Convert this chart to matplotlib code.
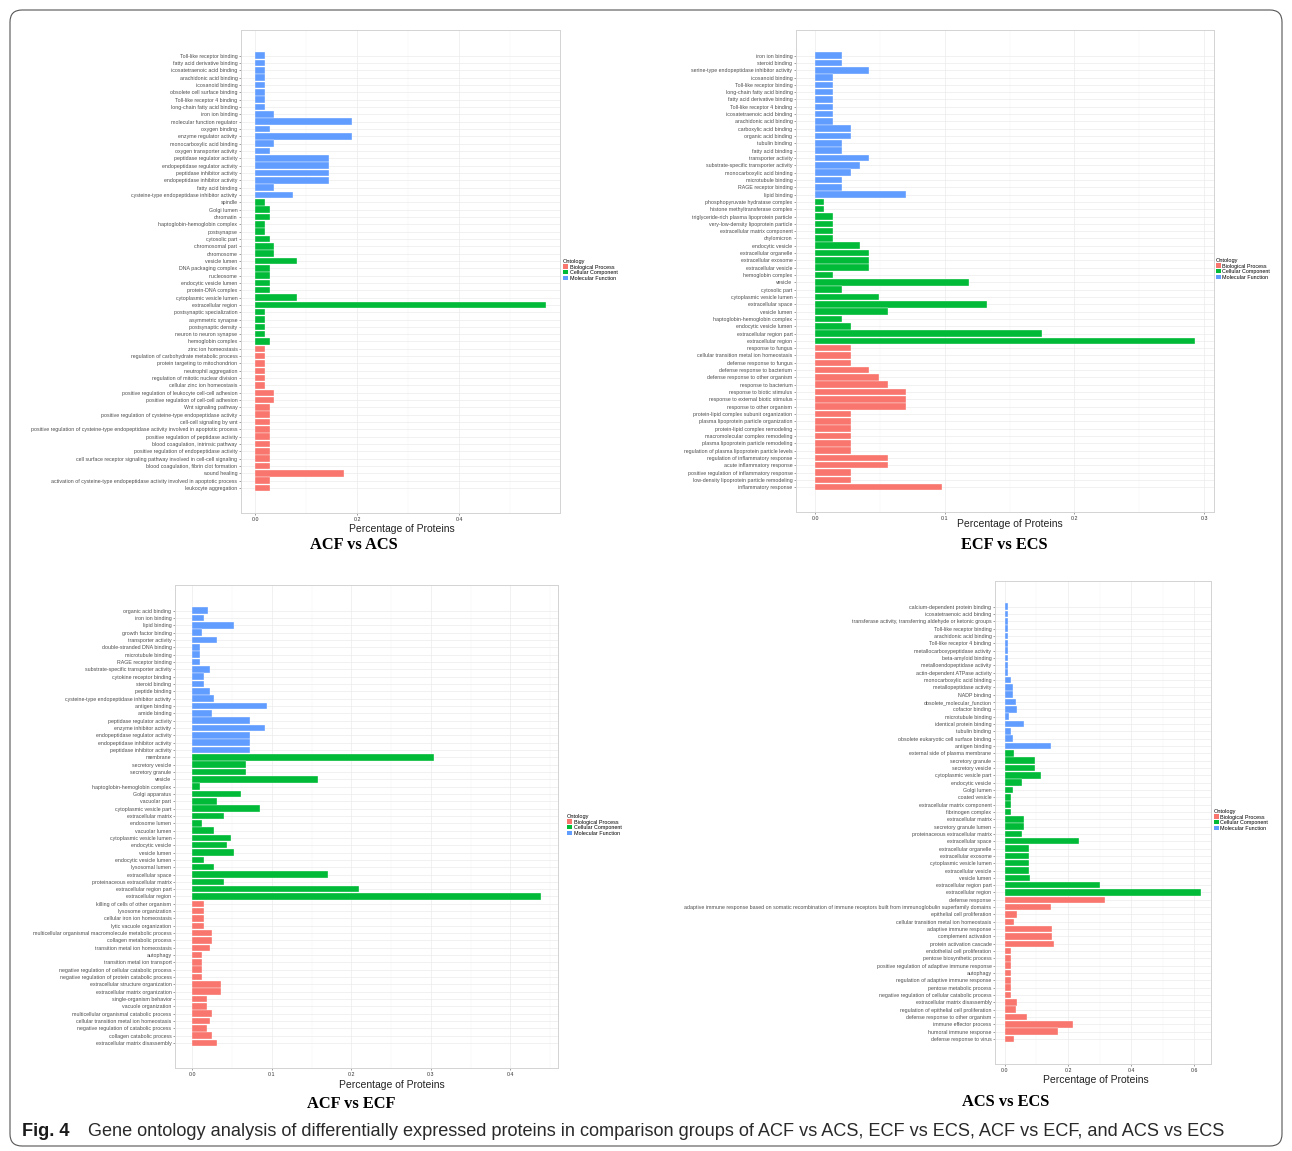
import matplotlib
matplotlib.use("Agg")
import matplotlib.pyplot as plt
from matplotlib.patches import Patch, FancyBboxPatch
from matplotlib.ticker import FixedLocator, MultipleLocator, FormatStrFormatter

plt.rcParams['font.family'] = ['Liberation Sans', 'DejaVu Sans']

# ---------------- data ----------------
ontology_names = ["Biological Process", "Cellular Component", "Molecular Function"]

# Panel 1: ACF vs ACS
p1_terms = [
    "Toll-like receptor binding", "fatty acid derivative binding", "icosatetraenoic acid binding",
    "arachidonic acid binding", "icosanoid binding", "obsolete cell surface binding",
    "Toll-like receptor 4 binding", "long-chain fatty acid binding", "iron ion binding",
    "molecular function regulator", "oxygen binding", "enzyme regulator activity",
    "monocarboxylic acid binding", "oxygen transporter activity", "peptidase regulator activity",
    "endopeptidase regulator activity", "peptidase inhibitor activity", "endopeptidase inhibitor activity",
    "fatty acid binding", "cysteine-type endopeptidase inhibitor activity",
    "spindle", "Golgi lumen", "chromatin", "haptoglobin-hemoglobin complex", "postsynapse",
    "cytosolic part", "chromosomal part", "chromosome", "vesicle lumen", "DNA packaging complex",
    "nucleosome", "endocytic vesicle lumen", "protein-DNA complex", "cytoplasmic vesicle lumen",
    "extracellular region", "postsynaptic specialization", "asymmetric synapse",
    "postsynaptic density", "neuron to neuron synapse", "hemoglobin complex",
    "zinc ion homeostasis", "regulation of carbohydrate metabolic process",
    "protein targeting to mitochondrion", "neutrophil aggregation",
    "regulation of mitotic nuclear division", "cellular zinc ion homeostasis",
    "positive regulation of leukocyte cell-cell adhesion", "positive regulation of cell-cell adhesion",
    "Wnt signaling pathway", "positive regulation of cysteine-type endopeptidase activity",
    "cell-cell signaling by wnt",
    "positive regulation of cysteine-type endopeptidase activity involved in apoptotic process",
    "positive regulation of peptidase activity", "blood coagulation, intrinsic pathway",
    "positive regulation of endopeptidase activity",
    "cell surface receptor signaling pathway involved in cell-cell signaling",
    "blood coagulation, fibrin clot formation", "wound healing",
    "activation of cysteine-type endopeptidase activity involved in apoptotic process",
    "leukocyte aggregation",
]
p1_values = [
    0.018, 0.018, 0.018, 0.018, 0.018, 0.018, 0.018, 0.018, 0.037, 0.190,
    0.028, 0.190, 0.037, 0.028, 0.145, 0.145, 0.145, 0.145, 0.037, 0.073,
    0.018, 0.028, 0.028, 0.018, 0.018, 0.028, 0.037, 0.037, 0.082, 0.028,
    0.028, 0.028, 0.028, 0.082, 0.570, 0.018, 0.018, 0.018, 0.018, 0.028,
    0.018, 0.018, 0.018, 0.018, 0.018, 0.018, 0.037, 0.037, 0.028, 0.028,
    0.028, 0.028, 0.028, 0.028, 0.028, 0.028, 0.028, 0.173, 0.028, 0.028,
]
p1_groups = ["MF"] * 20 + ["CC"] * 20 + ["BP"] * 20
p1_ticks = [0.0, 0.2, 0.4]

# Panel 2: ECF vs ECS
p2_terms = [
    "iron ion binding", "steroid binding", "serine-type endopeptidase inhibitor activity",
    "icosanoid binding", "Toll-like receptor binding", "long-chain fatty acid binding",
    "fatty acid derivative binding", "Toll-like receptor 4 binding", "icosatetraenoic acid binding",
    "arachidonic acid binding", "carboxylic acid binding", "organic acid binding", "tubulin binding",
    "fatty acid binding", "transporter activity", "substrate-specific transporter activity",
    "monocarboxylic acid binding", "microtubule binding", "RAGE receptor binding", "lipid binding",
    "phosphopyruvate hydratase complex", "histone methyltransferase complex",
    "triglyceride-rich plasma lipoprotein particle", "very-low-density lipoprotein particle",
    "extracellular matrix component", "chylomicron", "endocytic vesicle", "extracellular organelle",
    "extracellular exosome", "extracellular vesicle", "hemoglobin complex", "vesicle",
    "cytosolic part", "cytoplasmic vesicle lumen", "extracellular space", "vesicle lumen",
    "haptoglobin-hemoglobin complex", "endocytic vesicle lumen", "extracellular region part",
    "extracellular region",
    "response to fungus", "cellular transition metal ion homeostasis", "defense response to fungus",
    "defense response to bacterium", "defense response to other organism", "response to bacterium",
    "response to biotic stimulus", "response to external biotic stimulus", "response to other organism",
    "protein-lipid complex subunit organization", "plasma lipoprotein particle organization",
    "protein-lipid complex remodeling", "macromolecular complex remodeling",
    "plasma lipoprotein particle remodeling", "regulation of plasma lipoprotein particle levels",
    "regulation of inflammatory response", "acute inflammatory response",
    "positive regulation of inflammatory response", "low-density lipoprotein particle remodeling",
    "inflammatory response",
]
p2_values = [
    0.021, 0.021, 0.042, 0.014, 0.014, 0.014, 0.014, 0.014, 0.014, 0.014,
    0.028, 0.028, 0.021, 0.021, 0.042, 0.035, 0.028, 0.021, 0.021, 0.070,
    0.007, 0.007, 0.014, 0.014, 0.014, 0.014, 0.035, 0.042, 0.042, 0.042,
    0.014, 0.119, 0.021, 0.049, 0.133, 0.056, 0.021, 0.028, 0.175, 0.293,
    0.028, 0.028, 0.028, 0.042, 0.049, 0.056, 0.070, 0.070, 0.070, 0.028,
    0.028, 0.028, 0.028, 0.028, 0.028, 0.056, 0.056, 0.028, 0.028, 0.098,
]
p2_groups = ["MF"] * 20 + ["CC"] * 20 + ["BP"] * 20
p2_ticks = [0.0, 0.1, 0.2, 0.3]

# Panel 3: ACF vs ECF
p3_terms = [
    "organic acid binding", "iron ion binding", "lipid binding", "growth factor binding",
    "transporter activity", "double-stranded DNA binding", "microtubule binding",
    "RAGE receptor binding", "substrate-specific transporter activity", "cytokine receptor binding",
    "steroid binding", "peptide binding", "cysteine-type endopeptidase inhibitor activity",
    "antigen binding", "amide binding", "peptidase regulator activity", "enzyme inhibitor activity",
    "endopeptidase regulator activity", "endopeptidase inhibitor activity", "peptidase inhibitor activity",
    "membrane", "secretory vesicle", "secretory granule", "vesicle", "haptoglobin-hemoglobin complex",
    "Golgi apparatus", "vacuolar part", "cytoplasmic vesicle part", "extracellular matrix",
    "endosome lumen", "vacuolar lumen", "cytoplasmic vesicle lumen", "endocytic vesicle",
    "vesicle lumen", "endocytic vesicle lumen", "lysosomal lumen", "extracellular space",
    "proteinaceous extracellular matrix", "extracellular region part", "extracellular region",
    "killing of cells of other organism", "lysosome organization", "cellular iron ion homeostasis",
    "lytic vacuole organization", "multicellular organismal macromolecule metabolic process",
    "collagen metabolic process", "transition metal ion homeostasis", "autophagy",
    "transition metal ion transport", "negative regulation of cellular catabolic process",
    "negative regulation of protein catabolic process", "extracellular structure organization",
    "extracellular matrix organization", "single-organism behavior", "vacuole organization",
    "multicellular organismal catabolic process", "cellular transition metal ion homeostasis",
    "negative regulation of catabolic process", "collagen catabolic process",
    "extracellular matrix disassembly",
]
p3_values = [
    0.019, 0.015, 0.052, 0.012, 0.031, 0.009, 0.009, 0.009, 0.022, 0.015,
    0.015, 0.022, 0.027, 0.094, 0.025, 0.073, 0.091, 0.073, 0.073, 0.073,
    0.304, 0.067, 0.067, 0.158, 0.009, 0.061, 0.031, 0.085, 0.040, 0.012,
    0.027, 0.049, 0.043, 0.052, 0.015, 0.027, 0.170, 0.040, 0.210, 0.438,
    0.015, 0.015, 0.015, 0.015, 0.025, 0.025, 0.022, 0.012, 0.012, 0.012,
    0.012, 0.036, 0.036, 0.018, 0.018, 0.025, 0.022, 0.018, 0.025, 0.031,
]
p3_groups = ["MF"] * 20 + ["CC"] * 20 + ["BP"] * 20
p3_ticks = [0.0, 0.1, 0.2, 0.3, 0.4]

# Panel 4: ACS vs ECS
p4_terms = [
    "calcium-dependent protein binding", "icosatetraenoic acid binding",
    "transferase activity, transferring aldehyde or ketonic groups", "Toll-like receptor binding",
    "arachidonic acid binding", "Toll-like receptor 4 binding", "metallocarboxypeptidase activity",
    "beta-amyloid binding", "metalloendopeptidase activity", "actin-dependent ATPase activity",
    "monocarboxylic acid binding", "metallopeptidase activity", "NADP binding",
    "obsolete_molecular_function", "cofactor binding", "microtubule binding",
    "identical protein binding", "tubulin binding", "obsolete eukaryotic cell surface binding",
    "antigen binding",
    "external side of plasma membrane", "secretory granule", "secretory vesicle",
    "cytoplasmic vesicle part", "endocytic vesicle", "Golgi lumen", "coated vesicle",
    "extracellular matrix component", "fibrinogen complex", "extracellular matrix",
    "secretory granule lumen", "proteinaceous extracellular matrix", "extracellular space",
    "extracellular organelle", "extracellular exosome", "cytoplasmic vesicle lumen",
    "extracellular vesicle", "vesicle lumen", "extracellular region part", "extracellular region",
    "defense response",
    "adaptive immune response based on somatic recombination of immune receptors built from immunoglobulin superfamily domains",
    "epithelial cell proliferation", "cellular transition metal ion homeostasis",
    "adaptive immune response", "complement activation", "protein activation cascade",
    "endothelial cell proliferation", "pentose biosynthetic process",
    "positive regulation of adaptive immune response", "autophagy",
    "regulation of adaptive immune response", "pentose metabolic process",
    "negative regulation of cellular catabolic process", "extracellular matrix disassembly",
    "regulation of epithelial cell proliferation", "defense response to other organism",
    "immune effector process", "humoral immune response", "defense response to virus",
]
p4_values = [
    0.010, 0.010, 0.010, 0.010, 0.010, 0.010, 0.010, 0.010, 0.010, 0.010,
    0.020, 0.025, 0.025, 0.035, 0.040, 0.014, 0.060, 0.020, 0.025, 0.145,
    0.030, 0.095, 0.095, 0.115, 0.055, 0.025, 0.020, 0.020, 0.020, 0.060,
    0.060, 0.055, 0.236, 0.076, 0.076, 0.076, 0.076, 0.080, 0.302, 0.622,
    0.316, 0.145, 0.040, 0.030, 0.150, 0.150, 0.156, 0.020, 0.020, 0.020,
    0.020, 0.020, 0.020, 0.020, 0.040, 0.035, 0.070, 0.215, 0.170, 0.030,
]
p4_groups = ["MF"] * 20 + ["CC"] * 20 + ["BP"] * 20
p4_ticks = [0.0, 0.2, 0.4, 0.6]

panel_titles = ["ACF vs ACS", "ECF vs ECS", "ACF vs ECF", "ACS vs ECS"]

# ---------------- styling / layout ----------------
W, H = 1292, 1151
fig = plt.figure(figsize=(W / 100, H / 100), dpi=100)
fig.patch.set_facecolor('white')

COLORS = {"BP": "#F8766D", "CC": "#00BA38", "MF": "#619CFF"}
TXT = '#4D4D4D'


def px_axes(l, t, r, b):
    return fig.add_axes([l / W, 1 - b / H, (r - l) / W, (b - t) / H])


def draw_panel(box, terms, values, groups, ticks, minor, title, title_xy, xlab_xy, legend_xy):
    ax = px_axes(*box)
    n = len(terms)
    ys = list(range(n - 1, -1, -1))
    ax.barh(ys, values, height=0.9, color=[COLORS[g] for g in groups],
            edgecolor='white', linewidth=0.25, zorder=3)
    vmax = max(values)
    ax.set_xlim(-0.05 * vmax, 1.05 * vmax)
    ax.set_ylim(-3.4, n - 1 + 3.5)
    ax.set_yticks(ys)
    ax.set_yticklabels(terms)
    ax.xaxis.set_major_locator(FixedLocator(ticks))
    ax.xaxis.set_minor_locator(MultipleLocator(minor))
    ax.xaxis.set_major_formatter(FormatStrFormatter('%.1f'))
    ax.tick_params(axis='y', which='major', labelsize=3.8, colors='#555555',
                   labelcolor=TXT, length=1.6, width=0.4, pad=1)
    ax.tick_params(axis='x', which='major', labelsize=3.8, colors='#555555',
                   labelcolor='#333333', length=1.6, width=0.4, pad=1.5)
    ax.tick_params(axis='x', which='minor', length=0)
    ax.grid(which='major', color='#EBEBEB', linewidth=0.5, zorder=0)
    ax.grid(which='minor', axis='x', color='#F4F4F4', linewidth=0.35, zorder=0)
    ax.set_axisbelow(True)
    for s in ax.spines.values():
        s.set_color('#D3D3D3')
        s.set_linewidth(0.7)
    fig.text(xlab_xy[0] / W, 1 - xlab_xy[1] / H, "Percentage of Proteins",
             ha='center', va='center', fontsize=7.5, color='#222222')
    fig.text(title_xy[0] / W, 1 - title_xy[1] / H, title, ha='center', va='center',
             fontsize=11.8, fontweight='bold', family=['Liberation Serif', 'DejaVu Serif'])
    handles = [Patch(facecolor=COLORS[k], edgecolor='none') for k in ["BP", "CC", "MF"]]
    fig.legend(handles, ontology_names, loc='upper left',
               bbox_to_anchor=(legend_xy[0] / W, 1 - legend_xy[1] / H),
               title='Ontology', fontsize=3.9, title_fontsize=4.1, frameon=False,
               handlelength=0.9, handleheight=0.9, handletextpad=0.3, labelspacing=0.08,
               borderaxespad=0, borderpad=0, alignment='left')
    return ax


draw_panel((241, 30, 560, 513), p1_terms, p1_values, p1_groups, p1_ticks, 0.1,
           panel_titles[0], (354, 545), (402, 529), (563, 259))
draw_panel((796, 30, 1214, 512), p2_terms, p2_values, p2_groups, p2_ticks, 0.05,
           panel_titles[1], (1004, 545), (1010, 524), (1216, 258))
draw_panel((175, 585, 558, 1068), p3_terms, p3_values, p3_groups, p3_ticks, 0.05,
           panel_titles[2], (351, 1104), (392, 1085), (567, 814))
draw_panel((995, 581, 1211, 1064), p4_terms, p4_values, p4_groups, p4_ticks, 0.1,
           panel_titles[3], (1006, 1102), (1096, 1080), (1214, 809))

# caption
fig.text(22 / W, 1 - 1132 / H, "Fig. 4", fontsize=13.1, fontweight='bold',
         ha='left', va='center', color='#1a1a1a')
fig.text(88 / W, 1 - 1132 / H,
         "Gene ontology analysis of differentially expressed proteins in comparison groups of "
         "ACF vs ACS, ECF vs ECS, ACF vs ECF, and ACS vs ECS",
         fontsize=13.1, ha='left', va='center', color='#2a2a2a')

# rounded border around figure
border = FancyBboxPatch((10 / 100, (H - 1146) / 100), (1282 - 10) / 100, (1146 - 10) / 100,
                        boxstyle="round,pad=0,rounding_size=0.12",
                        transform=fig.dpi_scale_trans, facecolor='none',
                        edgecolor='#555555', linewidth=0.8)
fig.add_artist(border)

fig.savefig("out.png", dpi=100, facecolor='white')
